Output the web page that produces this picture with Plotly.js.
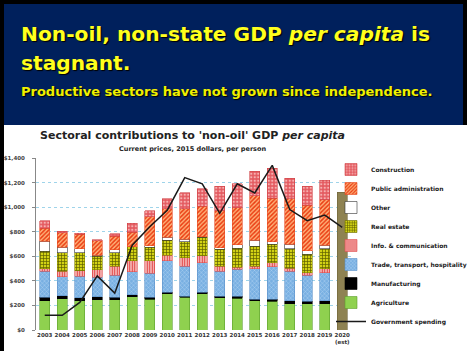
<!DOCTYPE html>
<html>
<head>
<meta charset="utf-8">
<script src="https://cdn.plot.ly/plotly-3.0.1.min.js"></script>
<style>
html,body{margin:0;padding:0;background:#000;}
#chart{width:467px;height:351px;}
</style>
</head>
<body>
<div id="chart"></div>
<script>
// ---- data ----
const years = ['2003','2004','2005','2006','2007','2008','2009','2010','2011','2012','2013','2014','2015','2016','2017','2018','2019'];
const allYears = ['2003','2004','2005','2006','2007','2008','2009','2010','2011','2012','2013','2014','2015','2016','2017','2018','2019','2020'];
const yearLabels = ['2003','2004','2005','2006','2007','2008','2009','2010','2011','2012','2013','2014','2015','2016','2017','2018','2019','2020<br>(est)'];
const agriculture   = [240,255,240,245,248,270,250,296,266,296,262,260,238,233,214,214,214];
const manufacturing = [28,22,24,25,20,16,15,11,8,12,12,14,14,19,24,19,24];
const trade         = [210,155,174,160,178,187,195,255,246,240,205,220,245,263,242,211,228];
const info          = [20,45,43,60,72,90,105,46,69,55,40,15,20,33,21,22,33];
const realEstate    = [145,150,147,110,110,114,110,124,129,150,140,155,165,150,162,151,164];
const other         = [80,48,33,10,25,0,10,21,22,5,10,28,50,22,36,27,27];
const publicAdmin   = [105,115,118,115,110,118,235,233,246,250,300,305,360,353,370,370,370];
const construction  = [60,12,10,10,20,75,50,83,130,140,200,193,200,245,165,155,160];
const total2020 = [1120];
const govSpending = [120,120,225,440,300,690,840,975,1240,1190,950,1190,1115,1340,980,890,935,835];
const yTicks = [0,200,400,600,800,1000,1200,1400];
const yTickText = ['$0','$200','$400','$600','$800','$1,000','$1,200','$1,400'];

// ---- geometry helpers (pixel -> paper) ----
const W = 467, H = 351;
const mL = 36, mR = 116, mT = 158, mB = 21;
const pw = W - mL - mR, ph = H - mT - mB;
const px = X => (X - mL) / pw;
const py = Y => (H - mB - Y) / ph;

const F = 'DejaVu Sans, Verdana, sans-serif';

function barTrace(name, y, color, line, pattern) {
  const t = {type:'bar', name:name, x:years, y:y,
    marker:{color:color, line:{color:line, width:0.6}}, hoverinfo:'name+y'};
  if (pattern) t.marker.pattern = pattern;
  return t;
}

const traces = [
  {type:'scatter', mode:'lines', name:'Government spending', x:allYears, y:govSpending,
   line:{color:'#1a1a1a', width:1.5}},
  barTrace('Agriculture', agriculture, '#8fd14f', '#5e9e2e'),
  barTrace('Manufacturing', manufacturing, '#000000', '#000000'),
  barTrace('Trade, transport, hospitality', trade, '#79b0e2', '#5a90c8',
    {shape:'x', bgcolor:'#79b0e2', fgcolor:'#b9d8f5', size:3, solidity:0.25}),
  barTrace('Info. & communication', info, '#f4b4b4', '#e05050',
    {shape:'|', bgcolor:'#f8c8c8', fgcolor:'#e03a3a', size:2.5, solidity:0.45}),
  barTrace('Real estate', realEstate, '#c8c810', '#808000',
    {shape:'+', bgcolor:'#d2d214', fgcolor:'#5e5e00', size:3, solidity:0.4}),
  barTrace('Other', other, '#ffffff', '#333333'),
  barTrace('Public administration', publicAdmin, '#ff9a50', '#e84a20',
    {shape:'/', bgcolor:'#ffb27a', fgcolor:'#ea3c12', size:3, solidity:0.5}),
  barTrace('Construction', construction, '#e85d62', '#d04448',
    {shape:'.', bgcolor:'#e45a60', fgcolor:'#f6b0b0', size:3.5, solidity:0.35}),
  {type:'bar', name:'2020 (est)', x:['2020'], y:total2020, showlegend:false,
   marker:{color:'#8e8252', line:{color:'#6e6238', width:0.6}}}
];

const layout = {
  width: W, height: H,
  margin:{l:mL, r:mR, t:mT, b:mB, pad:0, autoexpand:false},
  paper_bgcolor:'#000000', plot_bgcolor:'rgba(0,0,0,0)',
  barmode:'stack', bargap:0.45,
  showlegend:true,
  legend:{x:px(331), y:py(155), xanchor:'left', yanchor:'top', traceorder:'reversed',
    bgcolor:'rgba(0,0,0,0)', font:{family:F, size:6, color:'#222', weight:'bold'},
    itemwidth:30},
  xaxis:{type:'category', categoryorder:'array', categoryarray:allYears,
    tickvals:allYears, ticktext:yearLabels, range:[-0.5,17.5], tickangle:0,
    tickfont:{family:F, size:5.5, color:'#333', weight:'bold'}, ticks:'',
    showline:false, showgrid:false, zeroline:false, fixedrange:true},
  yaxis:{range:[0,1400], tickvals:yTicks, ticktext:yTickText,
    tickfont:{family:F, size:5.5, color:'#444', weight:'bold'},
    ticks:'outside', ticklen:3, tickcolor:'#888', ticklabelstandoff:6,
    showline:true, linecolor:'#888', linewidth:1,
    showgrid:true, gridcolor:'#9fd4ea', griddash:'dot', gridwidth:1,
    zeroline:false, fixedrange:true},
  shapes:[
    {type:'rect', xref:'paper', yref:'paper', x0:px(4), x1:px(463), y0:py(125), y1:py(4),
     fillcolor:'#00205c', line:{width:0}, layer:'below'},
    {type:'rect', xref:'paper', yref:'paper', x0:px(4), x1:px(467), y0:py(351), y1:py(125),
     fillcolor:'#ffffff', line:{width:0}, layer:'below'}
  ],
  annotations:[
    {xref:'paper', yref:'paper', x:px(19), y:py(34), xanchor:'left', yanchor:'middle', showarrow:false,
     text:'Non-oil, non-state GDP <i>per capita</i> is',
     font:{family:F, size:20.2, color:'#ffff1e', weight:'bold', shadow:'1px 1px 1px #000'}},
    {xref:'paper', yref:'paper', x:px(19), y:py(63), xanchor:'left', yanchor:'middle', showarrow:false,
     text:'stagnant.',
     font:{family:F, size:20.2, color:'#ffff1e', weight:'bold', shadow:'1px 1px 1px #000'}},
    {xref:'paper', yref:'paper', x:px(19), y:py(91), xanchor:'left', yanchor:'middle', showarrow:false,
     text:'Productive sectors have not grown since independence.',
     font:{family:F, size:13, color:'#f0f000', weight:'bold', shadow:'1px 1px 1px #000'}},
    {xref:'paper', yref:'paper', x:px(192), y:py(135), xanchor:'center', yanchor:'middle', showarrow:false,
     text:"Sectoral contributions to 'non-oil' GDP <i>per capita</i>",
     font:{family:F, size:11, color:'#222', weight:'bold'}},
    {xref:'paper', yref:'paper', x:px(192), y:py(149), xanchor:'center', yanchor:'middle', showarrow:false,
     text:'Current prices, 2015 dollars, per person',
     font:{family:F, size:6.5, color:'#222', weight:'bold'}}
  ]
};

Plotly.newPlot('chart', traces, layout, {displayModeBar:false, staticPlot:true});
</script>
</body>
</html>
